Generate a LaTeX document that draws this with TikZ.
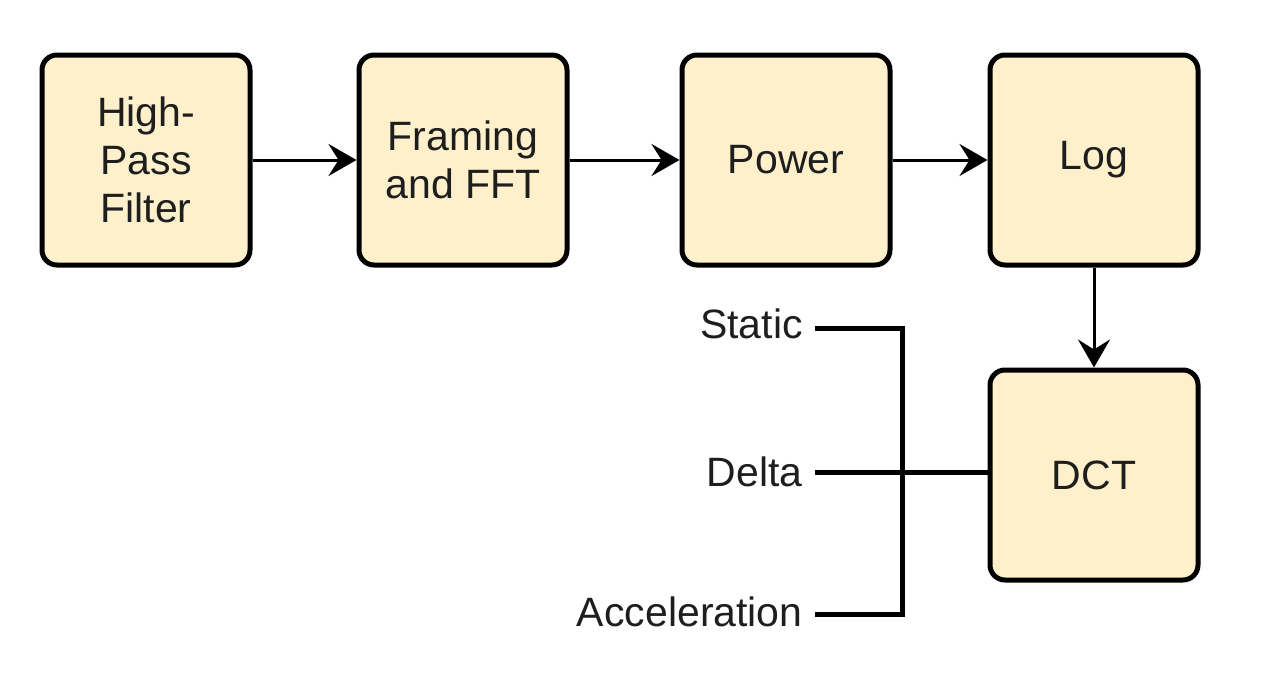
\documentclass[tikz,border=0pt]{standalone}
\usepackage{fontspec}
\setmainfont{Liberation Sans}
\usetikzlibrary{arrows.meta}
\definecolor{boxfill}{HTML}{FFF0CC}
\definecolor{ink}{HTML}{1E1E1E}
\tikzset{
  block/.style={draw=black, fill=boxfill, line width=2.5pt, rounded corners=7.5pt,
    minimum width=104pt, minimum height=105pt, align=center, text=ink,
    font=\fontsize{20.5}{24}\selectfont},
  lbl/.style={anchor=east, inner sep=6pt, text=ink, font=\fontsize{20.5}{24}\selectfont},
  flow/.style={-{Stealth[length=14pt,width=16pt,inset=5pt]}, line width=1.5pt},
  bus/.style={line width=2.5pt}
}
\begin{document}
\begin{tikzpicture}[x=0.5pt,y=-0.5pt]
  \useasboundingbox (0,0) rectangle (1280,686);
  \node[block] (hpf) at (146,160) {High-\\Pass\\Filter};
  \node[block] (fft) at (463,160) {Framing\\and FFT};
  \node[block] (pow) at (786,160) {Power};
  \node[block] (log) at (1094,160) {Log};
  \node[block] (dct) at (1094,475) {DCT};
  \node[lbl] (stat) at (815,324) {Static};
  \node[lbl] (delta) at (815,472) {Delta};
  \node[lbl] (acc) at (815,612) {Acceleration};
  \coordinate (jn) at (902,472);
  \begin{scope}[flow]
    \draw (hpf) to (fft);
    \draw (fft) to (pow);
    \draw (pow) to (log);
    \draw (log) to (dct);
  \end{scope}
  \begin{scope}[bus]
    \draw ([yshift=-2pt]stat.east) -| (jn) |- ([yshift=-1pt]acc.east);
    \draw (delta.east) to (delta.east -| dct.west);
  \end{scope}
\end{tikzpicture}
\end{document}
